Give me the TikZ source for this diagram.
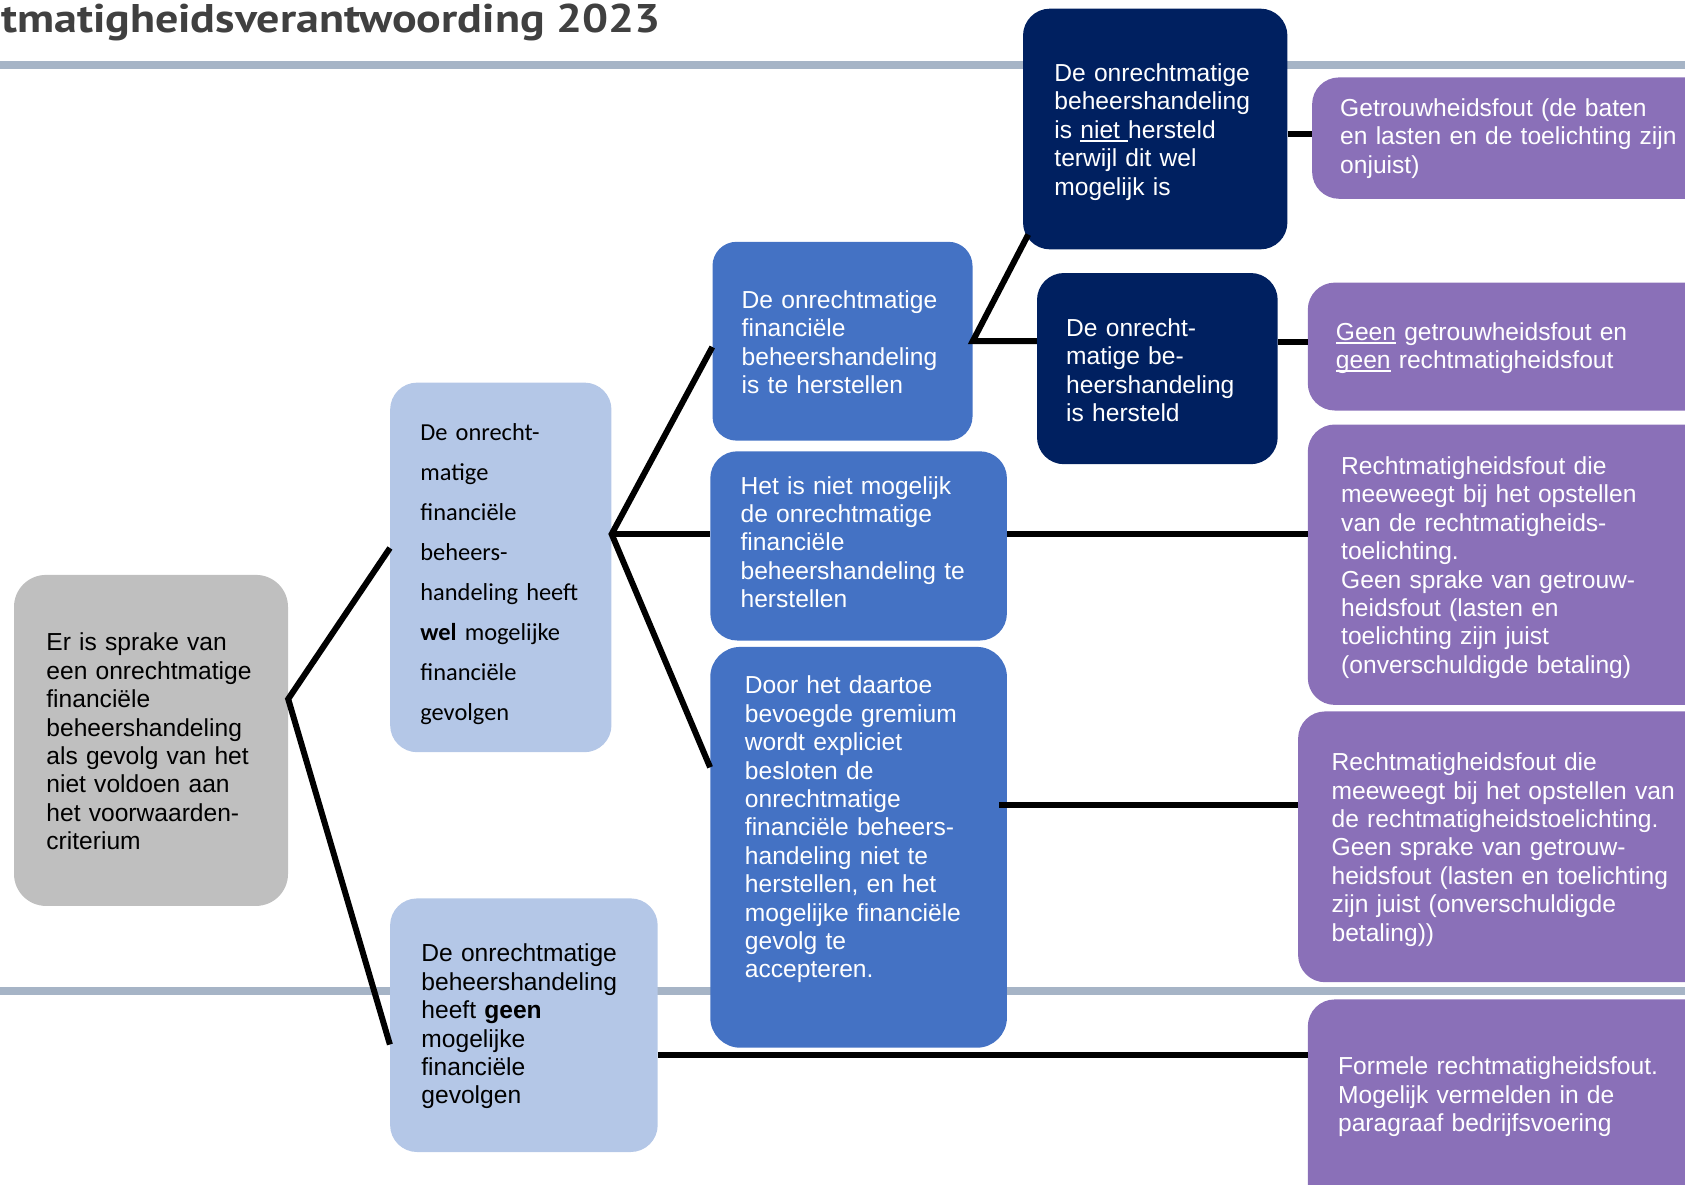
\documentclass[tikz,border=0pt]{standalone}
\usepackage{fontspec}
\setmainfont{Liberation Sans}
\newfontfamily\calfont{Carlito}
\newfontfamily\titlefont{PT Sans}
\definecolor{greyc}{HTML}{BFBFBF}
\definecolor{lblue}{HTML}{B4C7E7}
\definecolor{mblue}{HTML}{4472C4}
\definecolor{navy}{HTML}{002060}
\definecolor{purp}{HTML}{8A70B8}
\definecolor{titlec}{HTML}{404040}
\definecolor{rulec}{HTML}{A6B4C6}
\newsavebox\ulbox
\newcommand\uln[1]{\leavevmode\sbox\ulbox{#1}\rlap{\rule[-3.2pt]{\wd\ulbox}{1.8pt}}\usebox\ulbox}
\tikzset{
  box/.style={rounded corners=27pt, inner sep=0pt, draw=none},
  txt/.style={anchor=west, inner sep=0pt, align=left, text width=420pt,
    font=\fontsize{24.6}{28.4}\selectfont},
  wtxt/.style={txt, text=white},
  conn/.style={draw=black, line width=6pt, line join=miter},
  gline/.style={draw=rulec, line width=7.5pt}
}
\begin{document}
\begin{tikzpicture}[x=1pt,y=-1pt]
\path[use as bounding box] (0,0) rectangle (1685,1184);
\clip (0,0) rectangle (1685,1184);
% title and rules
\node[anchor=base west, inner sep=0pt, text=titlec,
  font=\titlefont\bfseries\fontsize{40}{40}\selectfont] (title) at (1,32) {\scalebox{1.15}[1]{tmatigheidsverantwoording 2023}};
\draw[gline] (0,65) -- (1685,65);
\draw[gline] (0,991) -- (1685,991);
% boxes
\node[box, rounded corners=32pt, fill=greyc, minimum width=274pt, minimum height=331pt] (b1) at (151,740.4) {};
\node[box, fill=lblue, minimum width=221.3pt, minimum height=369.6pt] (b2) at (500.8,567.4) {};
\node[box, fill=lblue, minimum width=267.6pt, minimum height=253.6pt] (b3) at (523.9,1025.2) {};
\node[box, rounded corners=24pt, fill=mblue, minimum width=260pt, minimum height=198.8pt] (b4) at (842.5,341.2) {};
\node[box, fill=mblue, minimum width=296.6pt, minimum height=189.2pt] (b5) at (858.6,545.9) {};
\node[box, rounded corners=30pt, fill=mblue, minimum width=296.6pt, minimum height=400.8pt] (b6) at (858.6,847.3) {};
\node[box, fill=navy, minimum width=264.4pt, minimum height=240.7pt] (b7) at (1155.2,129) {};
\node[box, fill=navy, minimum width=240.7pt, minimum height=191.2pt] (b8) at (1157.35,368.6) {};
\node[box, fill=purp, minimum width=412.9pt, minimum height=121.4pt] (b9) at (1518.55,138.1) {};
\node[box, fill=purp, minimum width=417.2pt, minimum height=127.9pt] (b10) at (1516.4,346.55) {};
\node[box, fill=purp, minimum width=417.2pt, minimum height=280.4pt] (b11) at (1516.4,564.7) {};
\node[box, fill=purp, minimum width=426.9pt, minimum height=270.8pt] (b12) at (1511.55,846.8) {};
\node[box, fill=purp, minimum width=417.2pt, minimum height=220.6pt] (b13) at (1516.4,1109.7) {};
% texts
\node[txt] (t1) at (46.2,741.5) {Er is sprake van\\een onrechtmatige\\financiële\\beheershandeling\\als gevolg van het\\niet voldoen aan\\het voorwaarden-\\criterium};
\node[txt, font=\calfont\fontsize{24.4}{40}\selectfont] (t2) at (420.2,574.5) {De onrecht-\\matige\\financiële\\beheers-\\handeling heeft\\\textbf{wel} mogelijke\\financiële\\gevolgen};
\node[txt] (t3) at (421.2,1026.5) {De onrechtmatige\\beheershandeling\\heeft \textbf{geen}\\mogelijke\\financiële\\gevolgen};
\node[wtxt] (t4) at (741.5,342.3) {De onrechtmatige\\financiële\\beheershandeling\\is te herstellen};
\node[wtxt] (t5) at (740.4,542.1) {Het is niet mogelijk\\de onrechtmatige\\financiële\\beheershandeling te\\herstellen};
\node[wtxt] (t6) at (744.7,829.5) {Door het daartoe\\bevoegde gremium\\wordt expliciet\\besloten de\\onrechtmatige\\financiële beheers-\\handeling niet te\\herstellen, en het\\mogelijke financiële\\gevolg te\\accepteren.};
\node[wtxt] (t7) at (1054.2,132) {De onrechtmatige\\beheershandeling\\is \uln{niet\ }hersteld\\terwijl dit wel\\mogelijk is};
\node[wtxt] (t8) at (1066,370) {De onrecht-\\matige be-\\heershandeling\\is hersteld};
\node[wtxt] (t9) at (1340,138.5) {Getrouwheidsfout (de baten\\en lasten en de toelichting zijn\\onjuist)};
\node[wtxt] (t10) at (1335.7,348.2) {\uln{Geen} getrouwheidsfout en\\\uln{geen} rechtmatigheidsfout};
\node[wtxt] (t11) at (1341,567.5) {Rechtmatigheidsfout die\\meeweegt bij het opstellen\\van de rechtmatigheids-\\toelichting.\\Geen sprake van getrouw-\\heidsfout (lasten en\\toelichting zijn juist\\(onverschuldigde betaling)};
\node[wtxt] (t12) at (1331.4,849.5) {Rechtmatigheidsfout die\\meeweegt bij het opstellen van\\de rechtmatigheidstoelichting.\\Geen sprake van getrouw-\\heidsfout (lasten en toelichting\\zijn juist (onverschuldigde\\betaling))};
\node[wtxt] (t13) at (1337.9,1097) {Formele rechtmatigheidsfout.\\Mogelijk vermelden in de\\paragraaf bedrijfsvoering};
% connector points
\coordinate (v1) at ([yshift=41.4pt]b1.east);
\coordinate (v2) at ([yshift=33.3pt]b2.east);
\coordinate (c7) at ([yshift=-5.3pt]b7.east);
\coordinate (c8) at ([yshift=27pt]b8.east);
\coordinate (c5) at ([yshift=11.8pt]b5.east);
\coordinate (c6) at ([xshift=-8pt,yshift=42.3pt]b6.east);
\coordinate (c3) at ([yshift=-30.1pt]b3.east);
% connectors
\draw[conn] ([yshift=19.4pt]b2.west) -- (v1) -- ([yshift=-19.3pt]b3.west);
\draw[conn] ([yshift=-5.8pt]b4.west) -- (v2) -- ([yshift=80pt]b6.west);
\draw[conn] (v2) -- ([yshift=11.8pt]b5.west);
\draw[conn] ([xshift=5.4pt,yshift=15pt]b7.south west) -- (b4.east) -- (b4.east -| b8.west);
\draw[conn] (c7) -- (c7 -| b9.west);
\draw[conn] (c8) -- (c8 -| b10.west);
\draw[conn] (c5) -- (c5 -| b11.west);
\draw[conn] (c6) -- (c6 -| b12.west);
\draw[conn] (c3) -- (c3 -| b13.west);
\end{tikzpicture}
\end{document}
